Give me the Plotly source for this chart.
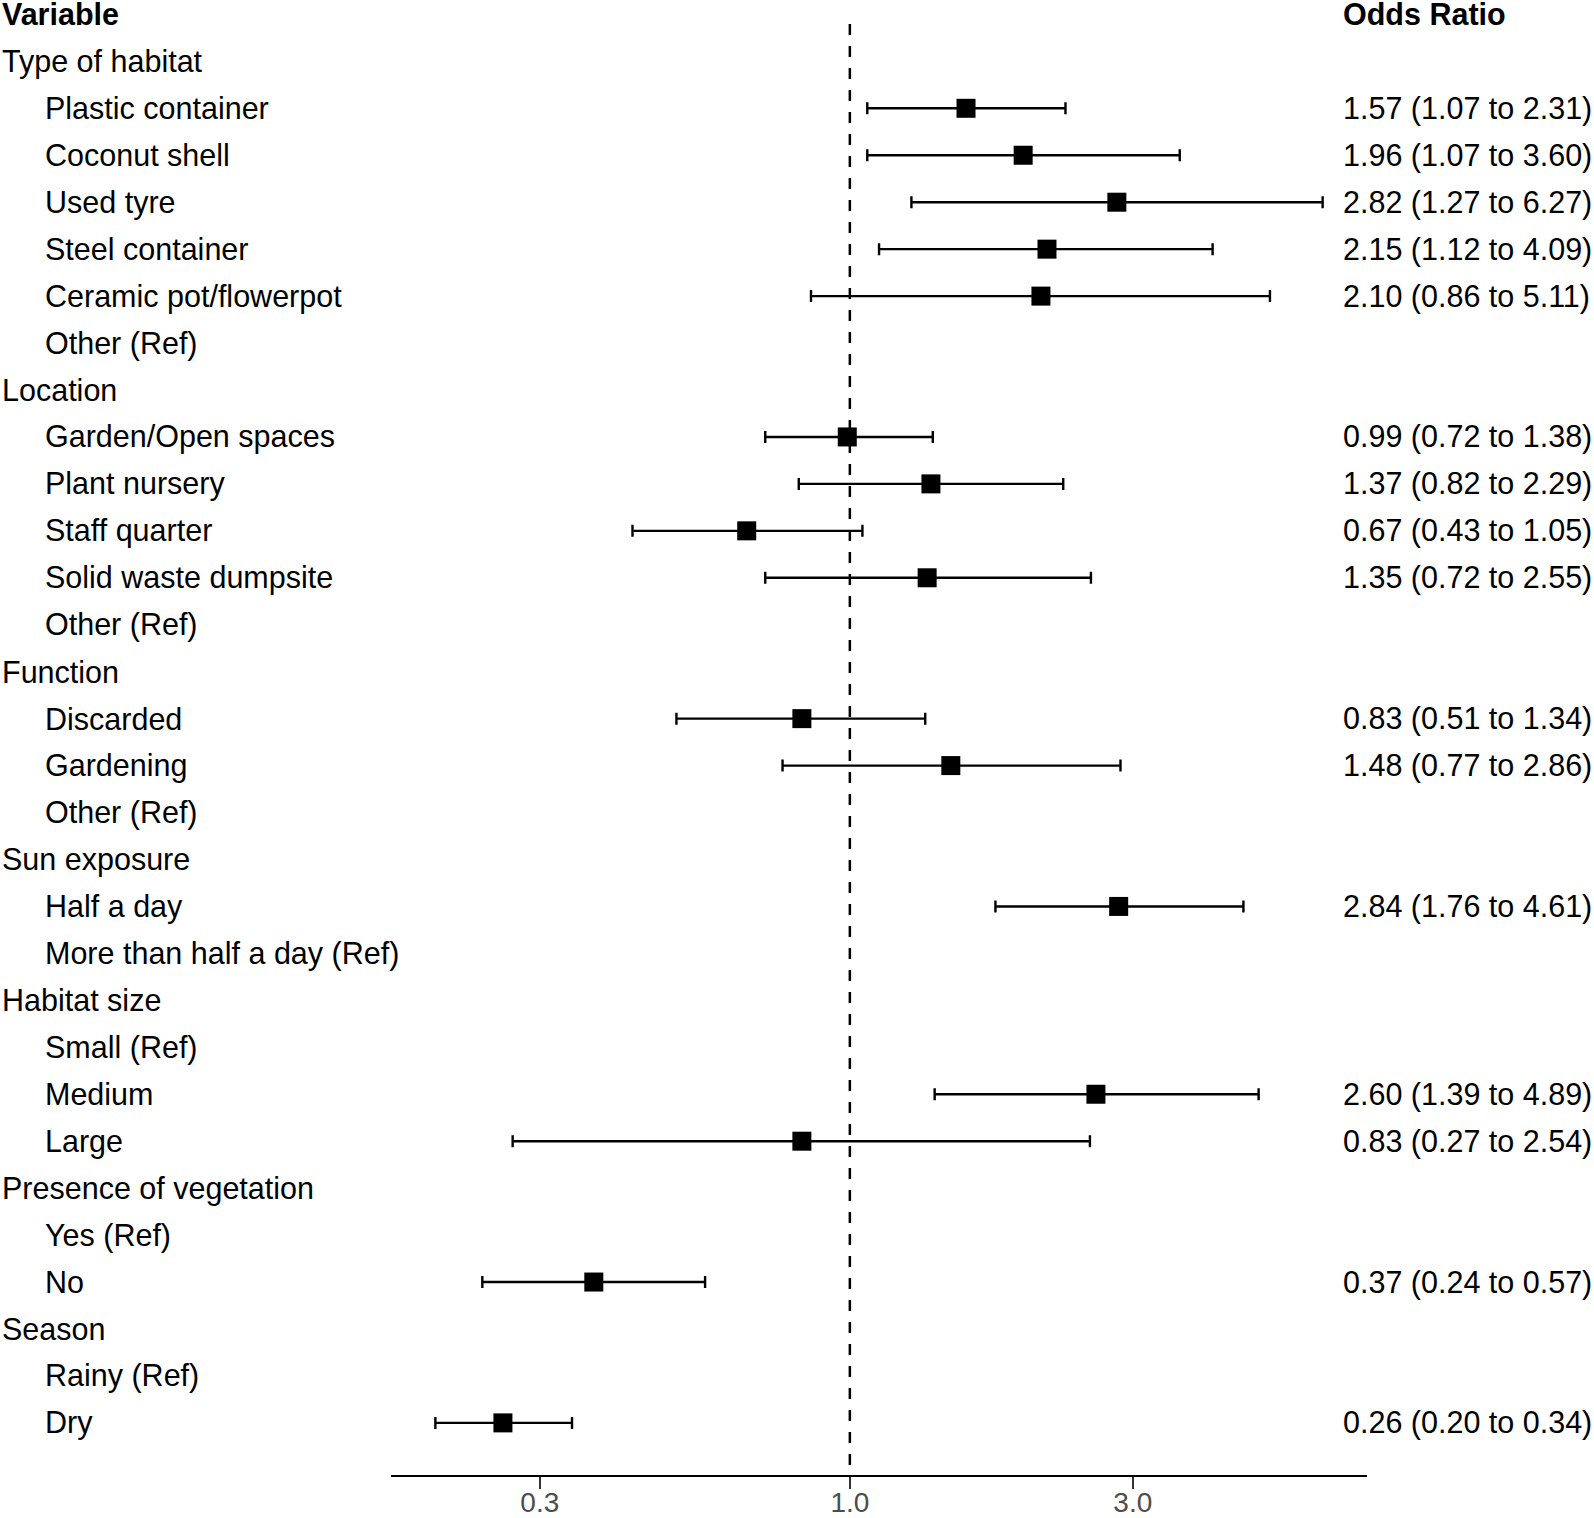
import plotly.graph_objects as go

# ---------------- data ----------------
labels = [
    "Type of habitat", "Plastic container", "Coconut shell", "Used tyre", "Steel container",
    "Ceramic pot/flowerpot", "Other (Ref)",
    "Location", "Garden/Open spaces", "Plant nursery", "Staff quarter", "Solid waste dumpsite", "Other (Ref)",
    "Function", "Discarded", "Gardening", "Other (Ref)",
    "Sun exposure", "Half a day", "More than half a day (Ref)",
    "Habitat size", "Small (Ref)", "Medium", "Large",
    "Presence of vegetation", "Yes (Ref)", "No",
    "Season", "Rainy (Ref)", "Dry",
]
is_group = [
    True, False, False, False, False, False, False,
    True, False, False, False, False, False,
    True, False, False, False,
    True, False, False,
    True, False, False, False,
    True, False, False,
    True, False, False,
]
odds = [
    None, 1.57, 1.96, 2.82, 2.15, 2.10, None,
    None, 0.99, 1.37, 0.67, 1.35, None,
    None, 0.83, 1.48, None,
    None, 2.84, None,
    None, None, 2.60, 0.83,
    None, None, 0.37,
    None, None, 0.26,
]
lower = [
    None, 1.07, 1.07, 1.27, 1.12, 0.86, None,
    None, 0.72, 0.82, 0.43, 0.72, None,
    None, 0.51, 0.77, None,
    None, 1.76, None,
    None, None, 1.39, 0.27,
    None, None, 0.24,
    None, None, 0.20,
]
upper = [
    None, 2.31, 3.60, 6.27, 4.09, 5.11, None,
    None, 1.38, 2.29, 1.05, 2.55, None,
    None, 1.34, 2.86, None,
    None, 4.61, None,
    None, None, 4.89, 2.54,
    None, None, 0.57,
    None, None, 0.34,
]
tick_vals = [0.3, 1.0, 3.0]
tick_text = ["0.3", "1.0", "3.0"]
header_left = "Variable"
header_right = "Odds Ratio"

# ---------------- figure ----------------
FONT = "Liberation Sans, Arial, Helvetica, sans-serif"
FS = 30.5
W, H = 1594, 1518
ML, MR, MT, MB = 391, 227, 0, 43
PW = W - ML - MR

rows = list(range(1, len(labels) + 1))
pts_y = [r for r, o in zip(rows, odds) if o is not None]
pts_x = [o for o in odds if o is not None]
err_plus = [u - o for o, u in zip(odds, upper) if o is not None]
err_minus = [o - l for o, l in zip(odds, lower) if o is not None]

fig = go.Figure()

# reference line at OR = 1
y_top, y_bot = -0.3067, 31.11
line_top = 0.2045
fig.add_trace(go.Scatter(
    x=[1, 1], y=[line_top, y_bot], mode="lines",
    line=dict(color="black", width=2.5, dash="11px,11px"),
    hoverinfo="skip", showlegend=False,
))

fig.add_trace(go.Scatter(
    x=pts_x, y=pts_y, mode="markers",
    marker=dict(symbol="square", size=19, color="black", line=dict(width=0)),
    error_x=dict(type="data", symmetric=False, array=err_plus, arrayminus=err_minus,
                 color="black", thickness=2.4, width=6),
    showlegend=False,
))


def px_to_paper(px):
    return (px - ML) / PW


annotations = []
annotations.append(dict(x=px_to_paper(0), y=0, xref="paper", yref="y", text="<b>" + header_left + "</b>",
                        xanchor="left", yanchor="middle", showarrow=False,
                        font=dict(family=FONT, size=FS, color="black")))
annotations.append(dict(x=px_to_paper(1341), y=0, xref="paper", yref="y", text="<b>" + header_right + "</b>",
                        xanchor="left", yanchor="middle", showarrow=False,
                        font=dict(family=FONT, size=FS, color="black")))
for r, lab, g, o, lo, up in zip(rows, labels, is_group, odds, lower, upper):
    annotations.append(dict(x=px_to_paper(0 if g else 42.7), y=r, xref="paper", yref="y", text=lab,
                            xanchor="left", yanchor="middle", showarrow=False,
                            font=dict(family=FONT, size=FS, color="black")))
    if o is not None:
        annotations.append(dict(x=px_to_paper(1341), y=r, xref="paper", yref="y",
                                text=f"{o:.2f} ({lo:.2f} to {up:.2f})",
                                xanchor="left", yanchor="middle", showarrow=False,
                                font=dict(family=FONT, size=FS, color="black")))

fig.update_layout(
    width=W, height=H,
    margin=dict(l=ML, r=MR, t=MT, b=MB, pad=0, autoexpand=False),
    paper_bgcolor="white", plot_bgcolor="white",
    annotations=annotations,
    showlegend=False,
    xaxis=dict(
        type="log", range=[-0.77378, 0.87208],
        tickvals=tick_vals, ticktext=tick_text,
        showgrid=False, zeroline=False, automargin=False,
        showline=True, linecolor="black", linewidth=2.2,
        ticks="outside", ticklen=12, tickwidth=2, tickcolor="#333333",
        ticklabelstandoff=-11,
        tickfont=dict(family=FONT, size=28, color="#4D4D4D"),
    ),
    yaxis=dict(
        range=[y_bot, y_top], visible=False, showgrid=False, zeroline=False, automargin=False,
    ),
)

fig.write_html("out.html", config={"displayModeBar": False},
               post_script="document.body.style.margin='0px';")
